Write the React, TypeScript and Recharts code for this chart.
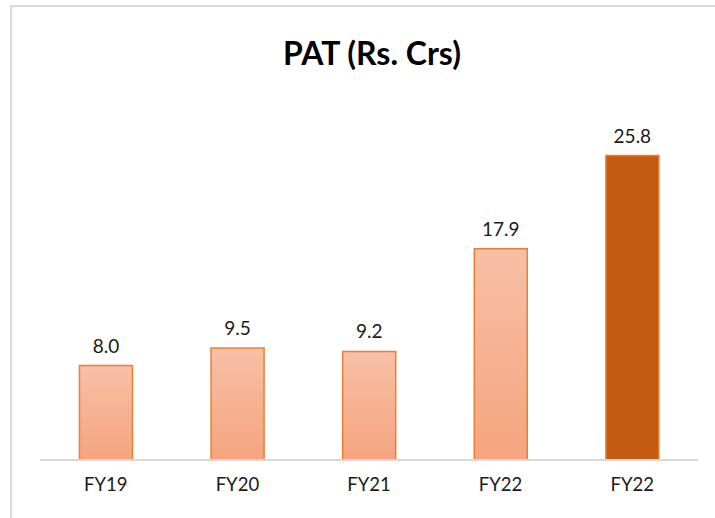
import React from 'react';
import { BarChart, Bar, XAxis, YAxis, Cell, LabelList } from 'recharts';

const years = ['FY19', 'FY20', 'FY21', 'FY22', 'FY22'];
const pat = [8.0, 9.5, 9.2, 17.9, 25.8];
const highlight = [false, false, false, false, true];

const data = years.map((year, i) => ({ year, pat: pat[i], highlight: highlight[i] }));

const FONT = 'Lato, "Open Sans", sans-serif';

const App: React.FC = () => {
  return (
    <div style={{ position: 'absolute', left: 0, top: 0, width: 715, height: 518, background: '#fff', overflow: 'hidden', fontFamily: FONT }}>
      {/* frame */}
      <div
        style={{
          position: 'absolute',
          left: 10,
          top: 5,
          width: 720,
          height: 520,
          borderLeft: '2px solid #d9d9d9',
          borderTop: '2px solid #d9d9d9',
        }}
      />
      {/* title */}
      <div
        style={{
          position: 'absolute',
          left: 0,
          top: 33,
          width: 744,
          textAlign: 'center',
          fontSize: 32,
          lineHeight: '40px',
          fontWeight: 700,
          color: '#000',
        }}
      >
        PAT (Rs. Crs)
      </div>

      <div style={{ position: 'absolute', left: 0, top: 0 }}>
        <BarChart
          width={715}
          height={518}
          data={data}
          margin={{ top: 106, right: 17, bottom: 28, left: 40 }}
          barCategoryGap="30%"
        >
          <defs>
            <linearGradient id="lightFill" x1="0" y1="0" x2="0" y2="1">
              <stop offset="0%" stopColor="#f7c0a6" />
              <stop offset="100%" stopColor="#f5a47e" />
            </linearGradient>
          </defs>
          <XAxis
            dataKey="year"
            axisLine={{ stroke: '#d9d9d9', strokeWidth: 2 }}
            tickLine={false}
            tickMargin={12}
            tick={{ fill: '#1a1a1a', fontSize: 18.5, fontFamily: FONT }}
          />
          <YAxis hide domain={[0, 30]} />
          <Bar dataKey="pat" stroke="#ed7d31" strokeWidth={1.5} isAnimationActive={false}>
            {data.map((d, i) => (
              <Cell key={`cell-${i}`} fill={d.highlight ? '#c55a11' : 'url(#lightFill)'} />
            ))}
            <LabelList
              dataKey="pat"
              position="top"
              offset={13}
              formatter={(v: number) => v.toFixed(1)}
              style={{ fill: '#1a1a1a', fontSize: 19, fontFamily: FONT }}
            />
          </Bar>
        </BarChart>
      </div>
    </div>
  );
};

export default App;
